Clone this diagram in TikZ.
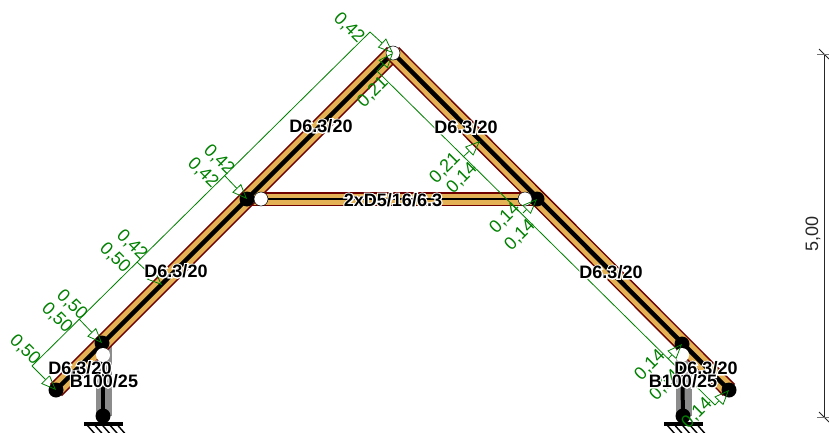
\documentclass[tikz,border=0pt]{standalone}
\usepackage{fontspec}
\setmainfont{Liberation Sans}
\newfontfamily\halofont[FakeBold=14]{Liberation Sans Bold}
\usetikzlibrary{arrows.meta,calc}
\definecolor{barred}{RGB}{110,0,0}
\definecolor{bargold}{RGB}{228,178,84}
\definecolor{dimgreen}{RGB}{0,128,0}
\definecolor{postgrey}{RGB}{140,140,140}
\newcommand{\memberlabel}[1]{\rlap{\textcolor{white}{\halofont #1}}\textbf{#1}}
\tikzset{
  dimline/.style={draw=dimgreen,line width=0.8pt},
  dimarrow/.style={draw=dimgreen,line width=0.8pt,-{Triangle[open,length=15pt,width=12pt]}},
  dimtext/.style={text=dimgreen,font=\fontsize{18}{20}\selectfont,inner sep=0pt},
  memberlbl/.style={font=\fontsize{18}{20}\selectfont,inner sep=0pt},
  joint/.style={circle,fill=black,minimum size=15pt,inner sep=0pt},
  hinge/.style={circle,fill=white,draw=black,line width=0.5pt,minimum size=14pt,inner sep=0pt},
  hingeplain/.style={circle,fill=white,minimum size=14pt,inner sep=0pt},
}
\begin{document}
\begin{tikzpicture}[x=1pt,y=-1pt]
\useasboundingbox (0,0) rectangle (829,433);
\coordinate (A) at (56,390);
\coordinate (B) at (102,343);
\coordinate (C) at (247,199);
\coordinate (P) at (393,53);
\coordinate (D) at (537,199);
\coordinate (E) at (682,344);
\coordinate (F) at (729,390);
\coordinate (HL) at (261,199);
\coordinate (HR) at (525,199);
\coordinate (SL) at (103,416);
\coordinate (SR) at (683,416);
\coordinate (TL) at (103,355);
\coordinate (TR) at (682,355);
\coordinate (GL1) at (104,345);
\coordinate (GL2) at (104,416);
\coordinate (GR1) at (683.5,345);
\coordinate (GR2) at (683.5,416);
% supports
\draw[line width=16pt,postgrey] (GL1) -- (GL2);
\draw[line width=16pt,postgrey] (GR1) -- (GR2);
\draw[line width=4pt,black] (TL) -- (SL);
\draw[line width=4pt,black] (TR) -- (SR);
\foreach \x in {103,683}{
  \draw[line width=4pt,black] (\x-19,424) -- (\x+20,424);
  \foreach \d in {-16,-8.4,-0.8,6.8,14.4}
    \draw[line width=1.4pt,black] (\x+\d,425) -- (\x+\d+8,434);
}
% bars
\foreach \a/\b/\w/\m in {C/D/14/2.8,A/P/17/4.5,P/F/17/4.5}{
  \draw[line width=\w pt,barred] (\a) -- (\b);
  \draw[line width=\w pt - 3pt,bargold] (\a) -- (\b);
  \draw[line width=\m pt,black] (\a) -- (\b);
}
% joints
\node[joint] (nA) at (A) {};
\node[joint] (nB) at (B) {};
\node[joint] (nC) at (C) {};
\node[joint] (nD) at (D) {};
\node[joint] (nE) at (E) {};
\node[joint] (nF) at (F) {};
\node[joint] (nSL) at (SL) {};
\node[joint] (nSR) at (SR) {};
\node[hinge] (nHL) at (HL) {};
\node[hinge] (nHR) at (HR) {};
\node[hinge] (nP) at (P) {};
\node[hingeplain] (nTL) at (TL) {};
\node[hingeplain] (nTR) at (TR) {};
% vertical dimension
\coordinate (V1) at (824,54);
\coordinate (V2) at (824,417);
\draw[line width=1pt,black!85] (V1) -- (V2);
\foreach \p in {V1,V2}{
  \draw[line width=0.8pt,black!85] ($(\p)+(-5,-5)$) -- ($(\p)+(5,5)$);
  \draw[line width=0.9pt,black!55] ($(\p)+(-7,0)$) -- ($(\p)+(5,0)$);
}
\node[rotate=90,font=\fontsize{18}{20}\selectfont,inner sep=0pt,text=black!85] (vlab) at (813,234) {5,00};
% slanted dimensions
\coordinate (L0) at (32,366);
\coordinate (L1) at (79,319);
\coordinate (L2) at (137,262);
\coordinate (L3) at (225,176);
\coordinate (L4) at (370,32);
\coordinate (R0) at (377,71);
\coordinate (R1) at (463,157);
\coordinate (R2) at (523,213);
\coordinate (R3) at (668,359);
\coordinate (R4) at (715,405);
\coordinate (T2) at (162,285);
\coordinate (T5) at (480,141);
\draw[dimline] (L0) -- (L4);
\draw[dimline] (R0) -- (R4);
\draw[dimarrow] (L0) -- (A);
\draw[dimarrow] (L1) -- (B);
\draw[dimarrow] (L2) -- (T2);
\draw[dimarrow] (L3) -- (C);
\draw[dimarrow] (L4) -- (P);
\draw[dimarrow] (R0) -- (P);
\draw[dimarrow] (R1) -- (T5);
\draw[dimarrow] (R2) -- (D);
\draw[dimarrow] (R3) -- (E);
\draw[dimarrow] (R4) -- (F);
% dimension labels
\node[dimtext,rotate=-45] (d1) at (25,350) {0,50};
\node[dimtext,rotate=-45] (d2) at (57,318) {0,50};
\node[dimtext,rotate=-45] (d3) at (72,305) {0,50};
\node[dimtext,rotate=-45] (d4) at (115,258) {0,50};
\node[dimtext,rotate=-45] (d5) at (132,245) {0,42};
\node[dimtext,rotate=-45] (d6) at (203,173) {0,42};
\node[dimtext,rotate=-45] (d7) at (219,160) {0,42};
\node[dimtext,rotate=-45] (d8) at (349,28) {0,42};
\node[dimtext,rotate=45] (d9) at (373,92) {0,21};
\node[dimtext,rotate=45] (d10) at (445,168) {0,21};
\node[dimtext,rotate=45] (d11) at (462,178) {0,14};
\node[dimtext,rotate=45] (d12) at (505,218) {0,14};
\node[dimtext,rotate=45] (d13) at (520,235) {0,14};
\node[dimtext,rotate=45] (d14) at (650,365) {0,14};
\node[dimtext,rotate=45] (d15) at (665,385) {0,14};
\node[dimtext,rotate=45] (d16) at (697,413) {0,14};
% member labels
\node[memberlbl] (m1) at (321,126) {\memberlabel{D6.3/20}};
\node[memberlbl] (m2) at (466,127) {\memberlabel{D6.3/20}};
\node[memberlbl] (m3) at (393,200) {\memberlabel{2xD5/16/6.3}};
\node[memberlbl] (m4) at (176,271) {\memberlabel{D6.3/20}};
\node[memberlbl] (m5) at (611,272) {\memberlabel{D6.3/20}};
\node[memberlbl] (m6) at (80,368) {\memberlabel{D6.3/20}};
\node[memberlbl] (m7) at (706,368) {\memberlabel{D6.3/20}};
\node[memberlbl] (m8) at (104,381) {\memberlabel{B100/25}};
\node[memberlbl] (m9) at (683,381) {\memberlabel{B100/25}};
\end{tikzpicture}
\end{document}
